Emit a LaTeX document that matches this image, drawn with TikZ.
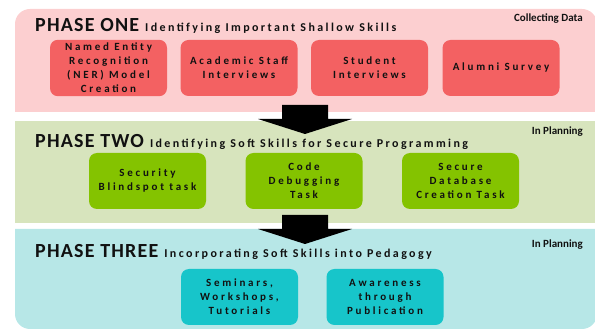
\documentclass[tikz,border=0pt]{standalone}
\usepackage{fontspec}
\setmainfont{Carlito}
\newfontfamily\phasefont[LetterSpace=6]{Carlito}
\newfontfamily\subfont[LetterSpace=20]{Carlito}
\newfontfamily\taskfont[LetterSpace=25]{Carlito}

\definecolor{pinkband}{HTML}{FCCFD0}
\definecolor{redtask}{HTML}{F36162}
\definecolor{greenband}{HTML}{D7E4BD}
\definecolor{greentask}{HTML}{84C300}
\definecolor{cyanband}{HTML}{B7E7E7}
\definecolor{cyantask}{HTML}{17C5CA}
\definecolor{inktext}{HTML}{111111}

\tikzset{
 task/.style={rounded corners=8pt,minimum width=117pt,minimum height=56pt,
   align=center,text=inktext,font=\taskfont\bfseries\fontsize{11}{14}\selectfont},
 phasetitle/.style={anchor=base west,inner sep=0pt,text=inktext},
 status/.style={anchor=base east,inner sep=0pt,text=inktext,
   font=\bfseries\fontsize{11}{13}\selectfont},
 blockarrow/.style={fill=black},
}

\begin{document}
\begin{tikzpicture}[x=1pt,y=-1pt]
 \useasboundingbox (0,0) rectangle (595,331);

 % phase bands
 \fill[pinkband] (15,112) [rounded corners=15pt] -- (15,9) -- (597,9) [sharp corners] -- (597,112) -- cycle;
 \fill[greenband] (15,121) rectangle (597,223);
 \fill[cyanband] (15,229) [rounded corners=15pt] -- (15,329) -- (597,329) [sharp corners] -- (597,229) -- cycle;

 % phase one
 \node[phasetitle] (one) at (35,32) {{\phasefont\bfseries\fontsize{20}{22}\selectfont PHASE ONE}\hspace{6pt}{\subfont\bfseries\fontsize{12}{14}\selectfont Identifying Important Shallow Skills}};
 \node[status] (oneStatus) at (583,22) {Collecting Data};
 \node[task,fill=redtask] (ner) at (108.5,68) {Named Entity\\Recognition\\(NER) Model\\Creation};
 \node[task,fill=redtask] (staff) at (239,68) {Academic Staff\\Interviews};
 \node[task,fill=redtask] (student) at (369.5,68) {Student\\Interviews};
 \node[task,fill=redtask] (alumni) at (501,68) {Alumni Survey};

 % phase two
 \node[phasetitle] (two) at (35,148) {{\phasefont\bfseries\fontsize{20}{22}\selectfont PHASE TWO}\hspace{6pt}{\subfont\bfseries\fontsize{12}{14}\selectfont Identifying Soft Skills for Secure Programming}};
 \node[status] (twoStatus) at (583,135) {In Planning};
 \node[task,fill=greentask] (blindspot) at (147.5,181) {Security\\Blindspot task};
 \node[task,fill=greentask] (debug) at (304,181) {Code\\Debugging\\Task};
 \node[task,fill=greentask] (database) at (460.5,181) {Secure\\Database\\Creation Task};

 % phase three
 \node[phasetitle] (three) at (35,258) {{\phasefont\bfseries\fontsize{20}{22}\selectfont PHASE THREE}\hspace{6pt}{\subfont\bfseries\fontsize{12}{14}\selectfont Incorporating Soft Skills into Pedagogy}};
 \node[status] (threeStatus) at (583,248) {In Planning};
 \node[task,fill=cyantask] (seminars) at (239.5,297) {Seminars,\\Workshops,\\Tutorials};
 \node[task,fill=cyantask] (publication) at (385,297) {Awareness\\through\\Publication};

 % arrows between phases
 \coordinate (a1) at (305,105);
 \coordinate (a2) at (305,215);
 \foreach \a in {a1,a2}
  \fill[blockarrow] (\a) ++(-23,0) -- ++(0,14) -- ++(-24,0) -- ++(47,15) -- ++(47,-15) -- ++(-24,0) -- ++(0,-14) -- cycle;
\end{tikzpicture}
\end{document}
